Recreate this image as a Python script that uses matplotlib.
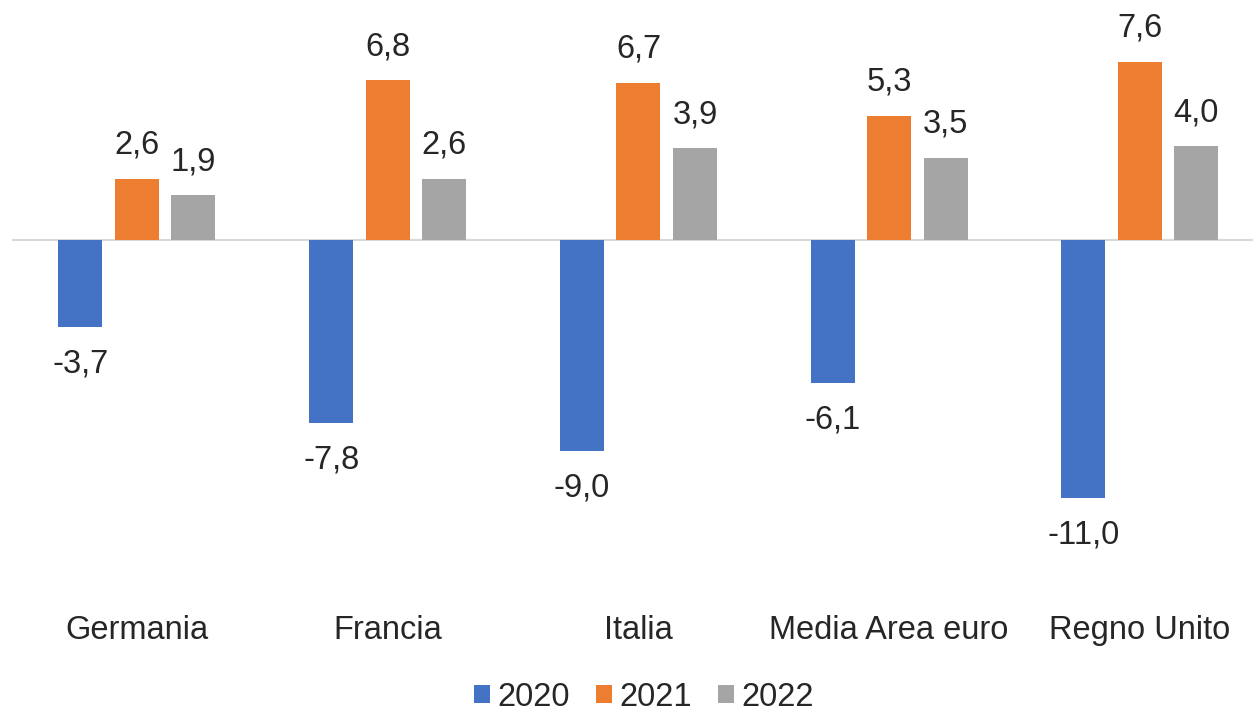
import numpy as np
import matplotlib
matplotlib.use("Agg")
from matplotlib import pyplot as plt

plt.rcParams['font.family'] = ['Liberation Sans', 'DejaVu Sans']

categories = ['Germania', 'Francia', 'Italia', 'Media Area euro', 'Regno Unito']
years = ['2020', '2021', '2022']
v2020 = [-3.7, -7.8, -9.0, -6.1, -11.0]
v2021 = [2.6, 6.8, 6.7, 5.3, 7.6]
v2022 = [1.9, 2.6, 3.9, 3.5, 4.0]
colors = ['#4472C4', '#ED7D31', '#A5A5A5']
txt = '#262626'

fig = plt.figure(figsize=(12.53, 7.13), dpi=100)
ax = fig.add_axes([11.6 / 1253, 113 / 713, 1 - 11.6 / 1253, 600 / 713])

x = np.arange(len(categories))
w = 0.1755
step = 0.2253
for k, (vals, c, yr) in enumerate(zip([v2020, v2021, v2022], colors, years)):
    pos = x + (k - 1) * step
    ax.bar(pos, vals, width=w, color=c, label=yr, zorder=2)
    for px, v in zip(pos, vals):
        lab = f"{v:.1f}".replace('.', ',')
        off = 18 if v >= 0 else -33
        ax.annotate(lab, (px, v), xytext=(0, off), textcoords='offset points',
                    ha='center', va='baseline', fontsize=23.5, color=txt)

ax.axhline(0, color='#D9D9D9', lw=1.5, zorder=1)
ax.set_xlim(-0.5, 4.451)
ax.set_ylim(-15.35, 10.23)
ax.set_xticks(x)
ax.set_xticklabels(categories, fontsize=23.5, color=txt)
ax.tick_params(axis='x', length=0, pad=11)
ax.set_yticks([])
for s in ax.spines.values():
    s.set_visible(False)

fig.legend(loc='center', bbox_to_anchor=(644 / 1253, 1 - 697 / 713), ncol=3,
           frameon=False, fontsize=23.5, handlelength=0.5, handleheight=0.5,
           handletextpad=0.22, columnspacing=0.8, labelcolor=txt,
           borderpad=0.0, borderaxespad=0.0)

plt.savefig('out.png', dpi=100)
plt.close()
